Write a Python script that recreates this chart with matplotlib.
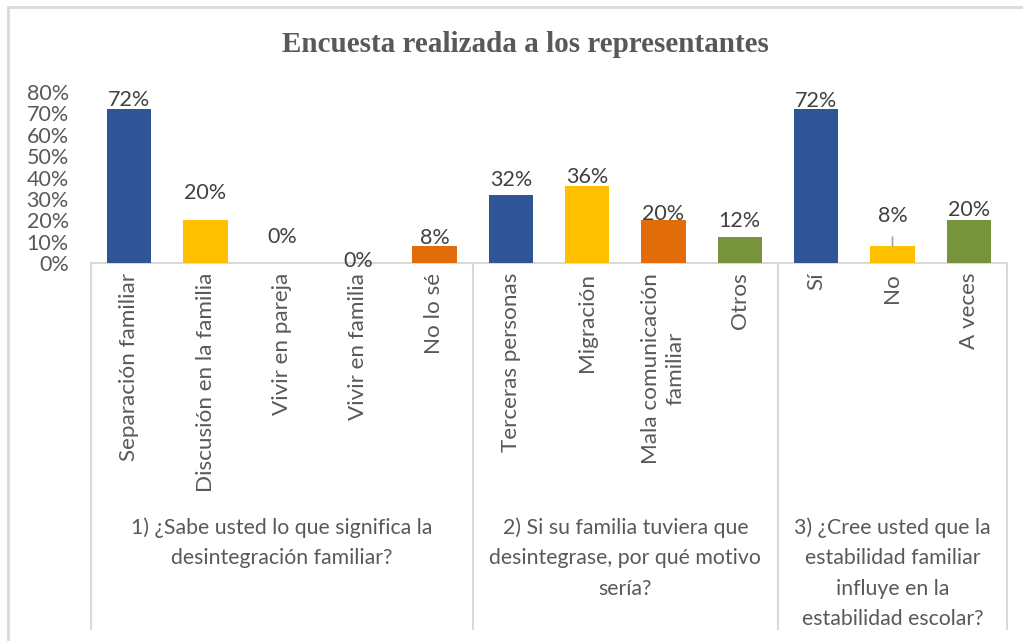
import matplotlib
matplotlib.use("Agg")
import matplotlib.pyplot as plt
import numpy as np

# ---- data ----
categories = ["Separación familiar", "Discusión en la familia", "Vivir en pareja",
              "Vivir en familia", "No lo sé",
              "Terceras personas", "Migración", "Mala comunicación\nfamiliar", "Otros",
              "Sí", "No", "A veces"]
values = [0.72, 0.20, 0.00, 0.00, 0.08,
          0.32, 0.36, 0.20, 0.12,
          0.72, 0.08, 0.20]
group_labels = ["1) ¿Sabe usted lo que significa la\ndesintegración familiar?",
                "2) Si su familia tuviera que\ndesintegrase, por qué motivo\nsería?",
                "3) ¿Cree usted que la\nestabilidad familiar\ninfluye en la\nestabilidad escolar?"]
group_sizes = [5, 4, 3]
yticks = [0, 0.1, 0.2, 0.3, 0.4, 0.5, 0.6, 0.7, 0.8]
title = "Encuesta realizada a los representantes"

# ---- style ----
BLUE, YEL, ORA, GRN = "#2F5597", "#FFC000", "#E36C0A", "#77933C"
bar_colors = [BLUE, YEL, YEL, ORA, ORA,
              BLUE, YEL, ORA, GRN,
              BLUE, YEL, GRN]
label_offsets_px = [9, 27, 26, 2, 8, 15, 9, 6, 16, 8, 30, 10]  # label placement (layout)
leader = [False]*10 + [True, False]

FONT = "Lato"
TXT = "#595959"
LBL = "#404040"
GRID = "#D9D9D9"

W, H = 1023, 641
fig = plt.figure(figsize=(W/100, H/100), dpi=100)
fig.patch.set_facecolor("white")

def fx(px): return px / W
def fy(py): return 1 - py / H

ax_l, ax_r, ax_b, ax_t = 91, 1007, 263, 92
ax = fig.add_axes([fx(ax_l), fy(ax_b), fx(ax_r - ax_l), (ax_b - ax_t) / H])

x = np.arange(len(values))
ax.bar(x, values, width=0.58, color=bar_colors, zorder=3)
ax.set_xlim(-0.5, len(values) - 0.5)
ax.set_ylim(0, 0.8)

for s in ["top", "right", "left"]:
    ax.spines[s].set_visible(False)
ax.spines["bottom"].set_color(GRID)
ax.spines["bottom"].set_linewidth(1.5)

ax.set_yticks(yticks)
ax.set_yticklabels([f"{int(round(t*100))}%" for t in yticks], fontsize=15.5,
                   color=TXT, family=FONT)
ax.tick_params(axis="y", length=0, pad=16)

ax.set_xticks(x)
ax.set_xticklabels(categories, rotation=90, fontsize=16.2, color=TXT, family=FONT,
                   va="top", ha="center", linespacing=1.25)
ax.tick_params(axis="x", length=0, pad=7)

for i, v in enumerate(values):
    kw = {}
    if leader[i]:
        kw["arrowprops"] = dict(arrowstyle="-", color="#A6A6A6", lw=1.2,
                                shrinkA=6, shrinkB=0)
    ax.annotate(f"{int(round(v*100))}%", xy=(i, v), xytext=(0, label_offsets_px[i]),
                textcoords="offset pixels", ha="center", va="center",
                fontsize=15.5, color=LBL, family=FONT, zorder=4, **kw)

# group separators and labels
bounds = np.concatenate([[0], np.cumsum(group_sizes)]) - 0.5
trans = matplotlib.transforms.blended_transform_factory(ax.transData, fig.transFigure)
for b in bounds:
    ax.plot([b, b], [fy(ax_b), fy(630)], transform=trans, color=GRID, lw=1.5,
            clip_on=False, solid_capstyle="butt")
for gi, gl in enumerate(group_labels):
    cx = (bounds[gi] + bounds[gi + 1]) / 2
    ax.text(cx, fy(517), gl, transform=trans, ha="center", va="top",
            fontsize=15.3, color=TXT, family=FONT, linespacing=1.66,
            multialignment="center")

fig.text(fx(525), fy(45), title, ha="center", va="center", fontsize=21,
         fontweight="bold", family="Liberation Serif", color=TXT)

# outer chart border (cropped on right/bottom in reference)
from matplotlib.patches import Rectangle
fig.patches.append(Rectangle((fx(8), fy(700)), fx(1030), (700 - 7) / H,
                             transform=fig.transFigure, fill=False,
                             edgecolor=GRID, lw=2))

fig.savefig("out.png", dpi=100)
